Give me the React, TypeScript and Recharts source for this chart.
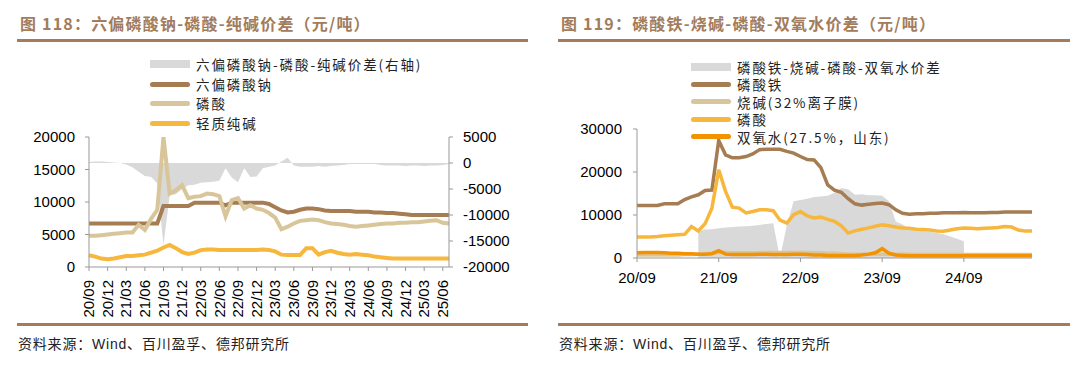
import React from 'react';
import { ComposedChart, Area, Line, XAxis, YAxis } from 'recharts';

const months = [
  '20/09', '20/10', '20/11', '20/12', '21/01', '21/02', '21/03', '21/04', '21/05', '21/06', '21/07', '21/08',
  '21/09', '21/10', '21/11', '21/12', '22/01', '22/02', '22/03', '22/04', '22/05', '22/06', '22/07', '22/08',
  '22/09', '22/10', '22/11', '22/12', '23/01', '23/02', '23/03', '23/04', '23/05', '23/06', '23/07', '23/08',
  '23/09', '23/10', '23/11', '23/12', '24/01', '24/02', '24/03', '24/04', '24/05', '24/06', '24/07', '24/08',
  '24/09', '24/10', '24/11', '24/12', '25/01', '25/02', '25/03', '25/04', '25/05', '25/06', '25/07',
];

// 图118
const hexaPrice = [
  6700, 6700, 6700, 6700, 6700, 6700, 6700, 6700, 6700, 6700, 6700, 6700,
  9400, 9400, 9400, 9400, 9400, 9900, 9900, 9900, 9900, 9900, 9500, 9900,
  9900, 9900, 9900, 9900, 9900, 9700, 9200, 8700, 8400, 8500, 8800, 9000,
  9000, 8900, 8700, 8600, 8600, 8600, 8600, 8500, 8500, 8500, 8400, 8400,
  8300, 8300, 8200, 8100, 8000, 8000, 8000, 8000, 8000, 8000, 8000,
];
const phosAcidL = [
  4800, 4800, 4900, 5000, 5100, 5200, 5300, 5300, 6500, 5700, 7400, 8800,
  20000, 11300, 11800, 12600, 10600, 10800, 10900, 11300, 11200, 10900, 7800, 10300,
  10600, 9000, 9500, 9000, 8800, 8300, 7600, 5800, 6200, 6700, 7100, 7200,
  7300, 7200, 6900, 6700, 6600, 6500, 6300, 6200, 6300, 6400, 6500, 6600,
  6700, 6700, 6800, 6800, 6900, 6900, 7000, 7100, 7200, 6800, 6700,
];
const sodaAsh = [
  1800, 1600, 1300, 1200, 1300, 1500, 1700, 1700, 1800, 1900, 2200, 2500,
  3000, 3400, 2900, 2300, 2000, 2200, 2600, 2700, 2700, 2600, 2600, 2600,
  2600, 2600, 2600, 2600, 2700, 2600, 2400, 1900, 1850, 1850, 1850, 2900,
  2900, 1900, 2300, 2500, 2200, 2000, 1900, 2000, 1900, 1800, 1600, 1500,
  1400, 1300, 1300, 1300, 1300, 1300, 1300, 1300, 1300, 1300, 1300,
];
const spreadL = [
  200, 300, 300, 200, 100, 0, -300, -800, -1700, -2500, -2700, -3900,
  -15800, -6200, -6000, -5000, -4300, -4200, -3800, -3700, -3600, -3400, -1000, -2800,
  -3700, -1000, -2700, -2600, -1000, -700, -500, 300, 1000, -500, -700, -700,
  -700, -600, -700, -600, -500, -400, -200, -200, -200, -200, -200, -400,
  -500, -500, -500, -600, -500, -500, -600, -500, -500, -400, -200,
];

// 图119
const ironPhos = [
  12200, 12200, 12200, 12200, 12600, 12600, 12600, 13600, 14200, 14700, 15700, 15800,
  27300, 24000, 23300, 23300, 23600, 24200, 25200, 25300, 25300, 25300, 24800, 24400,
  23600, 22900, 22800, 21000, 17000, 15800, 15300, 13800, 12600, 12300, 12500, 12700,
  12800, 12400, 11200, 10400, 10200, 10300, 10300, 10400, 10400, 10500, 10500, 10500,
  10600, 10500, 10500, 10500, 10600, 10600, 10700, 10700, 10700, 10700, 10700,
];
const causticSoda = [
  700, 700, 700, 700, 700, 700, 700, 800, 800, 900, 1000, 1100,
  1300, 1300, 1200, 1200, 1200, 1200, 1200, 1300, 1300, 1300, 1300, 1300,
  1300, 1300, 1200, 1200, 1100, 1100, 1000, 900, 900, 900, 900, 900,
  900, 900, 900, 850, 850, 800, 800, 800, 800, 800, 800, 800,
  800, 800, 800, 800, 800, 800, 800, 800, 800, 800, 800,
];
const phosAcidR = [
  4900, 4900, 4900, 5000, 5200, 5300, 5400, 5500, 7300, 6300, 8000, 11600,
  20500, 15500, 11800, 11600, 10500, 10800, 11200, 11200, 11000, 8800, 8100, 10100,
  10800, 9800, 9300, 9500, 9000, 8500, 7500, 5800, 6300, 6700, 7000, 7400,
  7700, 7500, 7200, 7000, 6900, 6700, 6600, 6500, 6300, 6200, 6500, 6800,
  7000, 6900, 6800, 6900, 7000, 7100, 7300, 7200, 6500, 6300, 6300,
];
const hydroPerox = [
  1200, 1300, 1300, 1300, 1200, 1100, 1100, 1000, 1000, 900, 900, 1000,
  1700, 900, 800, 800, 800, 800, 900, 900, 800, 800, 800, 900,
  900, 800, 700, 700, 600, 600, 600, 600, 600, 700, 900, 1200,
  2200, 1100, 700, 600, 500, 500, 500, 500, 500, 500, 500, 500,
  500, 500, 500, 500, 500, 500, 500, 500, 500, 500, 500,
];
const spreadR = [
  null, null, null, null, null, null, null, null, null, 6300, 6600, 6700,
  6900, 7100, 7200, 7300, 7400, 7500, 7700, 7900, 8100, 0, 7700, 13200,
  13500, 13800, 14200, 14300, 14500, 15200, 16300, 16000, 14700, 14800, 14600, 14600,
  14500, 13200, 8500, 7800, 7000, 6600, 6300, 6100, 5800, 5500, 5000, 4500,
  3900, null, null, null, null, null, null, null, null, null, null,
];

const leftTicks = [0, 5000, 10000, 15000, 20000];
const rightTicks = [-20000, -15000, -10000, -5000, 0, 5000];
const ironTicks = [0, 5000, 10000, 15000, 20000, 25000, 30000];

const dataL = months.map((m, i) => ({
  m, hexa: hexaPrice[i], acid: phosAcidL[i], soda: sodaAsh[i], spread: spreadL[i],
}));
const dataR = months.map((m, i) => ({
  m, iron: ironPhos[i], caustic: causticSoda[i], acid: phosAcidR[i], h2o2: hydroPerox[i], spread: spreadR[i],
}));

const BROWN = '#A67C52';
const TAN = '#D9C59A';
const YELLOW = '#F6B73C';
const ORANGE = '#F39200';
const GRAY = '#D9D9D9';
const AXIS = '#999999';
const HEAD = '#A27C5C';

const numFont = '"Liberation Sans", Arial, sans-serif';
const cnFont = '"Noto Sans CJK SC", "Liberation Sans", sans-serif';
const tickStyle = { fill: '#000', fontSize: 15, fontFamily: numFont };

const RotTick = ({ x, y, payload }: any) => (
  <text
    x={x}
    y={y}
    transform={`rotate(-90 ${x} ${y})`}
    textAnchor="end"
    dy="0.35em"
    fill="#000"
    fontSize={15}
    fontFamily={numFont}
  >
    {payload.value}
  </text>
);

// legend rows sit closer than the font's line box, so the label is a fixed-height block
const LegendItem = ({ left, top, box, color, label }: any) => (
  <div style={{ position: 'absolute', left, top: top - 8, height: 16, display: 'flex', alignItems: 'center' }}>
    <div
      style={{
        width: 40,
        height: box ? 8 : 5,
        borderRadius: box ? 0 : 3,
        background: color,
        marginRight: 6,
      }}
    />
    <div
      style={{
        display: 'block', height: 16, lineHeight: '16px', overflow: 'visible',
        fontFamily: cnFont, fontSize: 13.5, letterSpacing: 1.9, color: '#222', whiteSpace: 'nowrap',
      }}
    >
      {label}
    </div>
  </div>
);

const Title = ({ left, text }: any) => (
  <div
    style={{
      position: 'absolute', left, top: 12, height: 22, lineHeight: '22px',
      fontFamily: cnFont, fontSize: 16, fontWeight: 700, letterSpacing: 1.2, color: HEAD, whiteSpace: 'nowrap',
    }}
  >
    {text}
  </div>
);

const Rule = ({ left, width, top }: any) => (
  <div style={{ position: 'absolute', left, width, top: top - 1.5, height: 3, background: HEAD }} />
);

const Source = ({ left }: any) => (
  <div
    style={{
      position: 'absolute', left, top: 334, height: 18, lineHeight: '18px',
      fontFamily: cnFont, fontSize: 14, letterSpacing: 0.8, color: '#222', whiteSpace: 'nowrap',
    }}
  >
    资料来源：<span style={{ fontFamily: numFont }}>Wind</span>、百川盈孚、德邦研究所
  </div>
);

export default function App() {
  return (
    <div style={{ position: 'absolute', left: 0, top: 0, width: 1080, height: 367, background: '#fff', overflow: 'hidden' }}>
      <Title left={20} text="图 118：六偏磷酸钠-磷酸-纯碱价差（元/吨）" />
      <Title left={561} text="图 119：磷酸铁-烧碱-磷酸-双氧水价差（元/吨）" />
      <Rule left={17} width={511} top={40} />
      <Rule left={558} width={512} top={40} />

      <div style={{ position: 'absolute', left: 0, top: 0 }}>
        <ComposedChart width={540} height={330} data={dataL} margin={{ top: 137, right: 31, bottom: 13, left: 0 }}>
          <XAxis
            dataKey="m"
            scale="point"
            interval={2}
            height={50}
            tickSize={4}
            tickMargin={9}
            stroke={AXIS}
            tick={<RotTick />}
          />
          <YAxis
            yAxisId="l"
            width={89}
            domain={[0, 20000]}
            ticks={leftTicks}
            allowDataOverflow
            tickSize={4}
            tickMargin={10}
            stroke={AXIS}
            tick={tickStyle}
          />
          <YAxis
            yAxisId="r"
            orientation="right"
            width={60}
            domain={[-20000, 5000]}
            ticks={rightTicks}
            tickSize={4}
            tickMargin={10}
            stroke={AXIS}
            tick={{ ...tickStyle, textAnchor: 'start' }}
          />
          <Area yAxisId="r" dataKey="spread" baseValue={0} type="linear" fill={GRAY} fillOpacity={1} stroke="none" isAnimationActive={false} />
          <Line yAxisId="l" dataKey="hexa" type="linear" stroke={BROWN} strokeWidth={4} dot={false} isAnimationActive={false} />
          <Line yAxisId="l" dataKey="acid" type="linear" stroke={TAN} strokeWidth={4} dot={false} isAnimationActive={false} />
          <Line yAxisId="l" dataKey="soda" type="linear" stroke={YELLOW} strokeWidth={4} dot={false} isAnimationActive={false} />
        </ComposedChart>
      </div>

      <div style={{ position: 'absolute', left: 540, top: 0 }}>
        <ComposedChart width={540} height={330} data={dataR} margin={{ top: 129, right: 48, bottom: 32, left: 0 }}>
          <XAxis
            dataKey="m"
            scale="point"
            interval={11}
            height={40}
            tickSize={4}
            tickMargin={10}
            stroke={AXIS}
            tick={tickStyle}
          />
          <YAxis
            width={97}
            domain={[0, 30000]}
            ticks={ironTicks}
            tickSize={4}
            tickMargin={11}
            stroke={AXIS}
            tick={tickStyle}
          />
          <Area dataKey="spread" type="linear" fill={GRAY} fillOpacity={1} stroke="none" isAnimationActive={false} />
          <Line dataKey="iron" type="linear" stroke={BROWN} strokeWidth={3.5} dot={false} isAnimationActive={false} />
          <Line dataKey="caustic" type="linear" stroke={TAN} strokeWidth={3.5} dot={false} isAnimationActive={false} />
          <Line dataKey="acid" type="linear" stroke={YELLOW} strokeWidth={3.5} dot={false} isAnimationActive={false} />
          <Line dataKey="h2o2" type="linear" stroke={ORANGE} strokeWidth={3.5} dot={false} isAnimationActive={false} />
        </ComposedChart>
      </div>

      <LegendItem left={150} top={64} box color={GRAY} label="六偏磷酸钠-磷酸-纯碱价差(右轴)" />
      <LegendItem left={150} top={84} color={BROWN} label="六偏磷酸钠" />
      <LegendItem left={150} top={103} color={TAN} label="磷酸" />
      <LegendItem left={150} top={123} color={YELLOW} label="轻质纯碱" />

      <LegendItem left={691} top={67} box color={GRAY} label="磷酸铁-烧碱-磷酸-双氧水价差" />
      <LegendItem left={691} top={84} color={BROWN} label="磷酸铁" />
      <LegendItem left={691} top={101.5} color={TAN} label="烧碱(32%离子膜)" />
      <LegendItem left={691} top={119} color={YELLOW} label="磷酸" />
      <LegendItem left={691} top={136.5} color={ORANGE} label="双氧水(27.5%，山东)" />

      <Rule left={17} width={511} top={324} />
      <Rule left={558} width={512} top={324} />
      <Source left={18} />
      <Source left={559} />
    </div>
  );
}
